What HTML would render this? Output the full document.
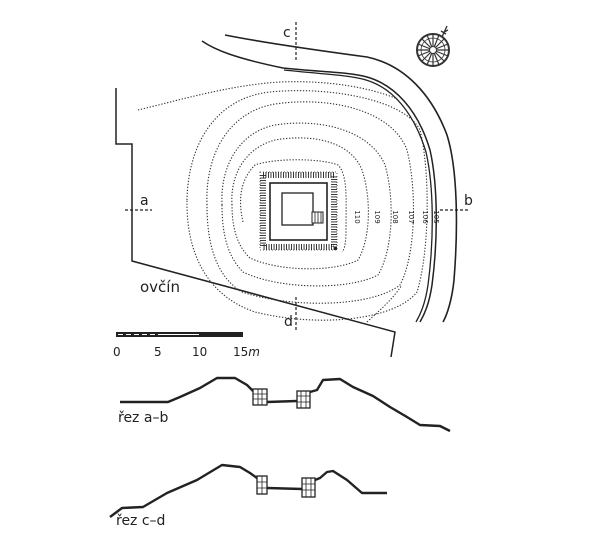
<!DOCTYPE html>
<html><head><meta charset="utf-8"><style>
html,body{margin:0;padding:0;background:#fff}
svg{display:block}
text{font-family:"DejaVu Sans","Liberation Sans",sans-serif;fill:#222}
</style></head><body>
<svg width="600" height="533" viewBox="0 0 600 533" xmlns="http://www.w3.org/2000/svg">
<rect width="600" height="533" fill="#fff"/>
<polyline points="116,88 116,144 132,144 132,261 395,332 391,357" fill="none" stroke="#222" stroke-width="1.5"/>
<path d="M225,35 C260,42 300,48 367,57 C405,65 432,95 447,135 C458,170 458,230 454,280 C452,300 447,315 443,322" fill="none" stroke="#222" stroke-width="1.6"/>
<path d="M202,41 C215,50 235,58 283,68 C320,72 350,72 367,77 C395,85 418,110 430,150 C438,185 438,240 432,285 C429,305 424,315 420,322" fill="none" stroke="#222" stroke-width="1.5"/>
<path d="M284,70 C320,74 350,75 366,80 C393,88 414,113 426,152 C434,187 434,240 428,285 C425,305 420,315 416,322" fill="none" stroke="#222" stroke-width="1.3"/>
<g fill="none" stroke="#333" stroke-width="1.1" stroke-dasharray="1.3,1.7">
<path d="M138,110 C180,100 230,85 280,82 C330,80 370,88 395,98"/>
<path d="M243,222 C238,200 240,180 255,165 C275,158 320,158 338,165 C348,175 346,200 346,230 C346,245 344,250 342,252"/>
<path d="M232,205 C230,175 245,148 275,140 C310,134 350,140 362,170 C372,200 370,240 358,260 C335,272 280,272 250,258 C236,245 232,225 232,205Z"/>
<path d="M222,205 C220,165 240,132 275,125 C320,118 370,130 385,165 C395,200 393,250 378,275 C350,290 280,290 243,272 C226,255 222,230 222,205Z"/>
<path d="M207,205 C205,155 228,112 275,104 C330,96 392,110 407,150 C417,190 416,255 400,285 C370,308 290,308 242,292 C214,275 207,240 207,205Z"/>
<path d="M187,200 C188,145 215,98 270,92 C330,86 405,100 420,130 C430,170 430,250 417,292 C395,320 320,328 255,312 C205,295 186,250 187,200Z"/>
<path d="M367,322 C380,310 392,300 402,285"/>
</g>
<rect x="260" y="172" width="77" height="78" fill="none" stroke="#333" stroke-width="0.8" stroke-dasharray="1,2"/>
<rect x="263" y="175" width="71" height="72" fill="none" stroke="#222" stroke-width="6" stroke-dasharray="0.9,1.6"/>
<rect x="270" y="183" width="57" height="57" fill="#fff" stroke="#222" stroke-width="1.6"/>
<rect x="282" y="193" width="31" height="32" fill="none" stroke="#222" stroke-width="1.3"/>
<rect x="312" y="212" width="11" height="11" fill="#fff" stroke="#222" stroke-width="1"/>
<g stroke="#222" stroke-width="0.8"><line x1="315" y1="212" x2="315" y2="223"/><line x1="318" y1="212" x2="318" y2="223"/><line x1="321" y1="212" x2="321" y2="223"/></g>
<g font-size="7" text-anchor="middle">
<text transform="translate(355,217) rotate(90)">110</text>
<text transform="translate(375,217) rotate(90)">109</text>
<text transform="translate(393,217) rotate(90)">108</text>
<text transform="translate(409,217) rotate(90)">107</text>
<text transform="translate(423,217) rotate(90)">106</text>
<text transform="translate(434,217) rotate(90)">105</text>
</g>
<g stroke="#222" stroke-width="1.2" stroke-dasharray="3,2">
<line x1="296" y1="22" x2="296" y2="62"/>
<line x1="296" y1="297" x2="296" y2="332"/>
<line x1="125" y1="210" x2="152" y2="210"/>
<line x1="440" y1="210" x2="470" y2="210"/>
</g>
<g font-size="14">
<text x="283" y="37">c</text>
<text x="284" y="326">d</text>
<text x="140" y="205">a</text>
<text x="464" y="205">b</text>
<text x="140" y="292" font-size="15">ovčín</text>
</g>
<g stroke="#333" fill="none">
<circle cx="433" cy="50" r="16" stroke-width="2"/>
<circle cx="433" cy="50" r="12" stroke-width="0.8"/>
<g stroke-width="1.2">
<line x1="433" y1="34" x2="433" y2="66"/><line x1="417" y1="50" x2="449" y2="50"/>
<line x1="422" y1="39" x2="444" y2="61"/><line x1="444" y1="39" x2="422" y2="61"/>
<line x1="427" y1="35" x2="439" y2="65"/><line x1="439" y1="35" x2="427" y2="65"/>
<line x1="418" y1="44" x2="448" y2="56"/><line x1="418" y1="56" x2="448" y2="44"/>
</g>
<circle cx="433" cy="50" r="3.5" fill="#fff" stroke-width="1"/>
<path d="M442,37 L447,26 M444,32 L448,30 M441,31 L446,34" stroke-width="1.4"/>
</g>
<rect x="116" y="332" width="127" height="5" fill="#222"/>
<line x1="118" y1="334.5" x2="180" y2="334.5" stroke="#fff" stroke-width="1" stroke-dasharray="5,3"/>
<line x1="158" y1="334.5" x2="199" y2="334.5" stroke="#fff" stroke-width="1"/>
<g font-size="12" fill="#333">
<text x="113" y="356">0</text><text x="154" y="356">5</text><text x="192" y="356">10</text><text x="233" y="356">15<tspan font-style="italic">m</tspan></text>
</g>
<g fill="none" stroke="#222" stroke-width="2.4" stroke-linejoin="round">
<polyline points="120,402 168,402 180,397 200,388 217,378 235,378 247,385 253,391"/>
<polyline points="267,402 297,401"/>
<polyline points="310,392 317,390 323,380 340,379 353,387 373,396 390,407 407,417 420,425 440,426 450,431"/>
<polyline points="110,517 122,508 143,507 167,493 197,480 222,465 240,467 250,473 257,478"/>
<polyline points="267,488 302,489"/>
<polyline points="315,480 320,478 327,472 333,471 347,480 362,493 387,493"/>
</g>
<g fill="#fff" stroke="#222" stroke-width="1.3">
<rect x="253" y="389" width="14" height="16"/>
<rect x="297" y="391" width="13" height="17"/>
<rect x="257" y="476" width="10" height="18"/>
<rect x="302" y="478" width="13" height="19"/>
</g>
<g stroke="#222" stroke-width="0.8" fill="none">
<path d="M253,394 h14 M253,399 h14 M258,389 v16 M262,389 v16"/>
<path d="M297,396 h13 M297,402 h13 M301,391 v17 M306,391 v17"/>
<path d="M257,482 h10 M257,488 h10 M262,476 v18"/>
<path d="M302,484 h13 M302,490 h13 M306,478 v19 M311,478 v19"/>
</g>
<g font-size="14">
<text x="118" y="422">řez a–b</text>
<text x="116" y="525">řez c–d</text>
</g>
</svg>
</body></html>
